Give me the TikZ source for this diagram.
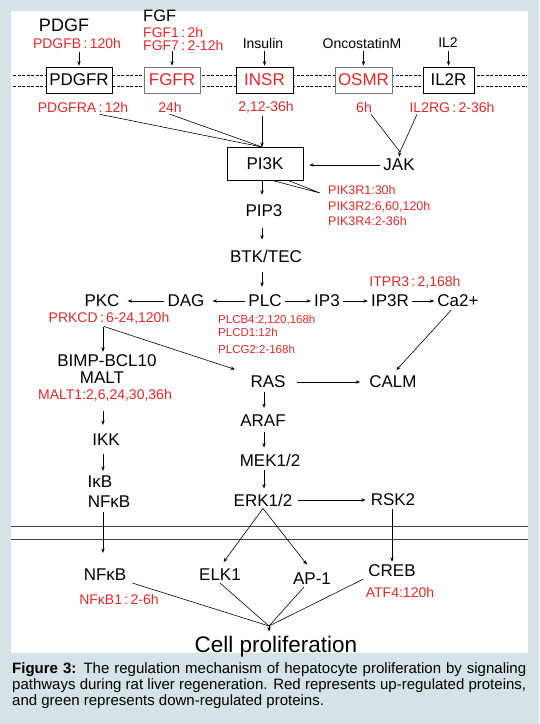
\documentclass[tikz,border=0pt]{standalone}
\usepackage{fontspec}
\setmainfont{Liberation Sans}
\usepackage{xcolor}
\usetikzlibrary{arrows.meta,calc,positioning}
\definecolor{upred}{RGB}{228,40,40}
\definecolor{pagebg}{RGB}{213,227,228}
\definecolor{boxgray}{RGB}{120,120,120}
\newcommand{\cln}{\,:\,}
\tikzset{
  gene/.style={font=\fontsize{17}{19}\selectfont, inner sep=2pt},
  small/.style={font=\fontsize{14}{16}\selectfont, inner sep=2pt},
  uplab/.style={font=\fontsize{14}{16}\selectfont, text=upred, inner sep=2pt},
  uplist/.style={font=\fontsize{12.5}{14}\selectfont, text=upred, inner sep=0pt, anchor=west},
  rbox/.style={draw, fill=white, line width=0.7pt, minimum height=26pt, inner sep=0pt, font=\fontsize{17}{19}\selectfont},
  arr/.style={-{Stealth[length=4.5pt,width=3.4pt]}, line width=0.6pt, shorten <=1pt, shorten >=1pt},
  wire/.style={line width=0.6pt},
  memdash/.style={line width=0.7pt, dash pattern=on 3pt off 1.5pt},
}
\begin{document}
\begin{tikzpicture}[x=1pt,y=-1pt]
  % page and white panel
  \fill[pagebg] (0,0) rectangle (539,724);
  \fill[white] (11,11) rectangle (528,653);
  \useasboundingbox (0,0) rectangle (539,724);

  % arrow columns
  \coordinate (colL) at (103,0);
  \coordinate (colM) at (262,0);
  \coordinate (colR) at (264,0);
  \coordinate (colK) at (392,0);

  % outer membrane
  \draw[memdash] (13,75) -- (527,75);
  \draw[memdash] (13,86) -- (527,86);

  % ligands
  \node[gene, font=\fontsize{18}{20}\selectfont] (pdgf) at (64,25) {PDGF};
  \node[uplab] (pdgfb) at (77,43.5) {PDGFB\cln120h};
  \node[gene, font=\fontsize{16.5}{18}\selectfont, anchor=west, inner sep=0pt] (fgf) at (143,16) {FGF};
  \node[uplab, anchor=west, inner sep=0pt] (fgf1) at (143,32) {FGF1\cln2h};
  \node[uplab, anchor=west, inner sep=0pt] (fgf7) at (143,45) {FGF7\cln2-12h};
  \node[small] (insulin) at (263,43) {Insulin};
  \node[small] (oncm) at (362,43) {OncostatinM};
  \node[small] (il2) at (448,43) {IL2};

  % receptors
  \node[rbox, minimum width=66pt] (pdgfr) at (79,80) {PDGFR};
  \node[rbox, draw=boxgray, text=upred, minimum width=56pt] (fgfr) at (172,80) {FGFR};
  \node[rbox, text=upred, minimum width=57pt] (insr) at (264.5,80) {INSR};
  \node[rbox, draw=boxgray, text=upred, minimum width=57pt] (osmr) at (363.5,80) {OSMR};
  \node[rbox, minimum width=51pt] (il2r) at (448.5,80) {IL2R};

  \draw[arr] (pdgfr.north |- pdgfb.south) -- (pdgfr.north);
  \draw[arr] (fgfr.north |- fgf7.south) -- (fgfr.north);
  \draw[arr] (insr.north |- insulin.south) -- (insr.north);
  \draw[arr] (osmr.north |- oncm.south) -- (osmr.north);
  \draw[arr] (il2r.north |- il2.south) -- (il2r.north);

  \node[uplab] (pdgfra) at (83,107) {PDGFRA\cln12h};
  \node[uplab] (fgfrt) at (170,107) {24h};
  \node[uplab] (insrt) at (266,107) {2,12-36h};
  \node[uplab] (osmrt) at (364,107) {6h};
  \node[uplab] (il2rg) at (452,107) {IL2RG\cln2-36h};

  % PI3K and JAK
  \node[rbox, minimum width=76pt, minimum height=33pt] (pi3k) at (265,163.5) {PI3K};
  \node[gene] (jak) at (399,165) {JAK};
  \coordinate (pin) at (262,147);
  \coordinate (jtop) at (400,152);
  \draw[wire] ([xshift=17pt]pdgfra.south) -- (pin);
  \draw[wire] (fgfrt.south) -- (pin);
  \draw[arr, shorten >=0pt] (insrt.south -| pin) -- (pin);
  \draw[wire] ([xshift=7pt]osmrt.south) -- (jtop);
  \draw[wire] ([xshift=-35pt]il2rg.south) -- (jtop);
  \draw[arr, shorten <=0pt, shorten >=0pt] (jtop) -- (jak.north);
  \draw[arr, shorten >=6pt] (jak.west) -- (pi3k.east |- jak.west);

  % PIK3R subunits
  \coordinate (pikpt) at (320,193);
  \draw[wire] ([xshift=7pt]pi3k.south) -- (pikpt) -- ([xshift=23pt]pi3k.south);
  \node[uplist] (pik1) at (328,190) {PIK3R1:30h};
  \node[uplist] (pik2) at (328,207) {PIK3R2:6,60,120h};
  \node[uplist] (pik4) at (328,221) {PIK3R4:2-36h};

  \node[gene] (pip3) at (264,211) {PIP3};
  \node[gene] (btk) at (266,256) {BTK/TEC};
  \draw[arr, shorten <=0pt, shorten >=8pt] (pi3k.south -| colM) -- (pip3.north -| colM);
  \draw[arr, shorten <=9pt, shorten >=8pt] (pip3.south -| colM) -- (btk.north -| colM);

  % PLC branch
  \node[gene] (plc) at (265,301) {PLC};
  \node[gene] (dag) at (186,301) {DAG};
  \node[gene] (pkc) at (102,301) {PKC};
  \node[gene] (ip3) at (327,301) {IP3};
  \node[gene] (ip3r) at (390,301) {IP3R};
  \node[gene] (ca) at (458,301) {Ca2+};
  \draw[arr, shorten <=8pt, shorten >=6pt] (btk.south -| colM) -- (plc.north -| colM);
  \draw[arr, shorten >=6pt] (plc.west) -- (dag.east);
  \draw[arr, shorten >=6pt] (dag.west) -- (pkc.east);
  \draw[arr] (plc.east) -- (ip3.west);
  \draw[arr] (ip3.east) -- (ip3r.west);
  \draw[arr] (ip3r.east) -- (ca.west);

  \node[uplab] (itpr3) at (415,282) {ITPR3\cln2,168h};
  \node[uplab] (prkcd) at (109,318) {PRKCD\cln6-24,120h};
  \node[uplist, font=\fontsize{11.5}{13}\selectfont] (plcb4) at (218,320) {PLCB4:2,120,168h};
  \node[uplist, font=\fontsize{11.5}{13}\selectfont] (plcd1) at (218,332.5) {PLCD1:12h};
  \node[uplist, font=\fontsize{11.5}{13}\selectfont] (plcg2) at (218,349) {PLCG2:2-168h};

  % left column: NF-kB pathway
  \node[gene] (bimp) at (107,361) {BIMP-BCL10};
  \node[gene] (malt) at (102,378) {MALT};
  \node[uplab] (malt1) at (105,395) {MALT1:2,6,24,30,36h};
  \node[gene] (ikk) at (106,440) {IKK};
  \node[gene] (ikb) at (100,482) {IκB};
  \node[gene] (nfkb) at (109,502) {NFκB};
  \draw[arr] (prkcd.south -| colL) -- (bimp.north -| colL);
  \draw[arr, shorten <=8pt, shorten >=7pt] (malt1.south -| colL) -- (ikk.north -| colL);
  \draw[arr, shorten <=6pt, shorten >=3pt] (ikk.south -| colL) -- (ikb.north -| colL);

  % middle column: MAPK pathway
  \node[gene] (ras) at (268,382) {RAS};
  \node[gene] (araf) at (263,421) {ARAF};
  \node[gene] (mek) at (270,460) {MEK1/2};
  \node[gene] (erk) at (263,500) {ERK1/2};
  \node[gene] (calm) at (393,382) {CALM};
  \node[gene] (rsk) at (393,500) {RSK2};
  \draw[arr, shorten >=14pt] ([xshift=-6pt]prkcd.south) -- (ras.north west);
  \draw[arr, shorten >=5pt] ([xshift=-6pt]ca.south) -- (calm.north);
  \draw[arr, shorten <=9pt, shorten >=7pt] (ras.east) -- (calm.west);
  \draw[arr, shorten <=4pt, shorten >=3pt] (erk.east) -- (rsk.west);
  \draw[arr, shorten <=2pt, shorten >=5pt] (ras.south -| colR) -- (araf.north -| colR);
  \draw[arr, shorten <=3pt, shorten >=4pt] (araf.south -| colR) -- (mek.north -| colR);
  \draw[arr, shorten <=2pt, shorten >=3pt] (mek.south -| colR) -- (erk.north -| colR);

  % inner membrane
  \draw[wire, black!75] (11,526) -- (528,526);
  \draw[wire, black!75] (11,539) -- (528,539);

  % transcription factors
  \node[gene] (nfkbb) at (105,575) {NFκB};
  \node[uplab] (nfkb1) at (119,599) {NFκB1\cln2-6h};
  \node[gene] (elk1) at (220,575) {ELK1};
  \node[gene] (ap1) at (312,579) {AP-1};
  \node[gene] (creb) at (392,571) {CREB};
  \node[uplab] (atf4) at (400,592) {ATF4:120h};
  \draw[arr, shorten <=2pt, shorten >=14pt] (nfkb.south -| colL) -- (nfkbb.north -| colL);
  \draw[arr] (rsk.south -| colK) -- (creb.north -| colK);
  \draw[arr, shorten <=0pt, shorten >=6pt] (erk.south) -- (elk1.north);
  \draw[arr, shorten <=0pt, shorten >=8pt] (erk.south) -- (ap1.north);

  % cell proliferation
  \node[gene, font=\fontsize{22.5}{24}\selectfont, anchor=base] (cellp) at (276,652) {Cell proliferation};
  \coordinate (cpin) at (269,626);
  \draw[wire] ([xshift=4pt]nfkbb.south east) -- (cpin);
  \draw[wire] (elk1.south) -- (cpin);
  \draw[wire] ([xshift=-8pt]ap1.south) -- (cpin);
  \draw[wire] ([xshift=-3pt]creb.south west) -- (cpin);
  \draw[arr, shorten <=0pt, shorten >=2pt] (cpin) -- (cellp.north -| cpin);

  % caption
  \node[anchor=north west, text width=514pt, align=justify, inner sep=0pt,
        font=\fontsize{15}{16}\selectfont] (caption) at (12,662)
    {\textbf{Figure 3:} The regulation mechanism of hepatocyte proliferation by signaling\linebreak
     pathways during rat liver regeneration. Red represents up-regulated proteins,\linebreak
     and green represents down-regulated proteins.};
\end{tikzpicture}
\end{document}
